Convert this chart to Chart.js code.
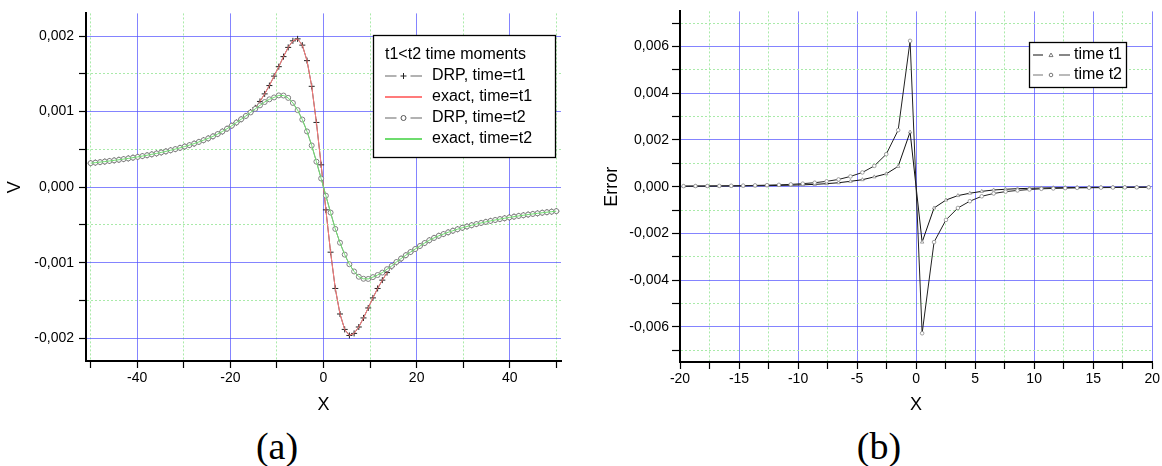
<!DOCTYPE html>
<html>
<head>
<meta charset="utf-8">
<script src="https://cdn.jsdelivr.net/npm/chart.js"></script>
<style>
  body { margin: 0; background: #fff; width: 1162px; height: 466px; overflow: hidden; position: relative; }
  .panel { position: absolute; top: 0; height: 420px; }
  .cap { position: absolute; top: 427px; font-family: "Liberation Serif", serif; font-size: 38px; line-height: 38px; transform: translateX(-50%); color: #000; }
</style>
</head>
<body>
<div class="panel" style="left:0;width:580px"><canvas id="chartA" width="580" height="420"></canvas></div>
<div class="panel" style="left:580px;width:582px"><canvas id="chartB" width="582" height="420"></canvas></div>
<div class="cap" style="left:277px">(a)</div>
<div class="cap" style="left:879px">(b)</div>
<script>
// ---- panel (a): V(x) at two time moments, values in units of 1e-3 ----
const xA = [-50.00, -48.99, -47.98, -46.97, -45.96, -44.95, -43.94, -42.93, -41.92, -40.91,
  -39.90, -38.89, -37.88, -36.87, -35.86, -34.85, -33.84, -32.83, -31.82, -30.81,
  -29.80, -28.79, -27.78, -26.77, -25.76, -24.75, -23.74, -22.73, -21.72, -20.71,
  -19.70, -18.69, -17.68, -16.67, -15.66, -14.65, -13.64, -12.63, -11.62, -10.61,
  -9.60, -8.59, -7.58, -6.57, -5.56, -4.55, -3.54, -2.53, -1.52, -0.51,
  0.51, 1.52, 2.53, 3.54, 4.55, 5.56, 6.57, 7.58, 8.59, 9.60,
  10.61, 11.62, 12.63, 13.64, 14.65, 15.66, 16.67, 17.68, 18.69, 19.70,
  20.71, 21.72, 22.73, 23.74, 24.75, 25.76, 26.77, 27.78, 28.79, 29.80,
  30.81, 31.82, 32.83, 33.84, 34.85, 35.86, 36.87, 37.88, 38.89, 39.90,
  40.91, 41.92, 42.93, 43.94, 44.95, 45.96, 46.97, 47.98, 48.99, 50.00];

const drpT1A = [0.318, 0.325, 0.332, 0.339, 0.347, 0.355, 0.363, 0.372, 0.381, 0.391,
  0.401, 0.412, 0.423, 0.435, 0.447, 0.460, 0.474, 0.489, 0.504, 0.521,
  0.538, 0.557, 0.577, 0.599, 0.622, 0.646, 0.673, 0.703, 0.737, 0.774,
  0.814, 0.856, 0.899, 0.943, 0.995, 1.050, 1.135, 1.235, 1.345, 1.470,
  1.595, 1.728, 1.850, 1.937, 1.963, 1.880, 1.675, 1.335, 0.857, 0.296,
  -0.300, -0.860, -1.340, -1.678, -1.882, -1.962, -1.935, -1.850, -1.730, -1.598,
  -1.465, -1.340, -1.230, -1.130, -1.050, -0.995, -0.947, -0.900, -0.858, -0.818,
  -0.778, -0.739, -0.702, -0.671, -0.643, -0.620, -0.597, -0.576, -0.556, -0.537,
  -0.520, -0.503, -0.488, -0.473, -0.459, -0.446, -0.434, -0.422, -0.411, -0.400,
  -0.390, -0.380, -0.371, -0.362, -0.354, -0.346, -0.338, -0.331, -0.324, -0.317];

const drpT2A = [0.318, 0.325, 0.332, 0.339, 0.347, 0.355, 0.363, 0.372, 0.381, 0.391,
  0.401, 0.412, 0.423, 0.435, 0.447, 0.460, 0.474, 0.489, 0.504, 0.521,
  0.538, 0.557, 0.577, 0.599, 0.622, 0.646, 0.673, 0.703, 0.737, 0.774,
  0.814, 0.856, 0.899, 0.943, 0.989, 1.037, 1.083, 1.127, 1.163, 1.188,
  1.215, 1.213, 1.182, 1.115, 1.020, 0.895, 0.738, 0.552, 0.338, 0.115,
  -0.112, -0.336, -0.552, -0.735, -0.892, -1.020, -1.115, -1.185, -1.212, -1.214,
  -1.190, -1.162, -1.130, -1.085, -1.042, -0.990, -0.944, -0.900, -0.858, -0.818,
  -0.778, -0.739, -0.702, -0.671, -0.643, -0.620, -0.597, -0.576, -0.556, -0.537,
  -0.520, -0.503, -0.488, -0.473, -0.459, -0.446, -0.434, -0.422, -0.411, -0.400,
  -0.390, -0.380, -0.371, -0.362, -0.354, -0.346, -0.338, -0.331, -0.324, -0.317];

// exact solution lies on top of the DRP points at this scale
const exactT1A = drpT1A;
const exactT2A = drpT2A;

const xMajorA = [-40, -20, 0, 20, 40];
const xMinorA = [-50, -30, -10, 10, 30, 50];
const yMajorA = [-0.002, -0.001, 0, 0.001, 0.002];
const yMinorA = [-0.0015, -0.0005, 0.0005, 0.0015];

// ---- panel (b): error at t1 and t2, units of 1e-3 ----
const xB = [-19.70, -18.69, -17.68, -16.67, -15.66, -14.65, -13.64, -12.63, -11.62, -10.61,
  -9.60, -8.59, -7.58, -6.57, -5.56, -4.55, -3.54, -2.53, -1.52, -0.51,
  0.51, 1.52, 2.53, 3.54, 4.55, 5.56, 6.57, 7.58, 8.59, 9.60,
  10.61, 11.62, 12.63, 13.64, 14.65, 15.66, 16.67, 17.68, 18.69, 19.70];

const errT1B = [0.020, 0.022, 0.025, 0.028, 0.030, 0.035, 0.040, 0.045, 0.055, 0.065,
  0.080, 0.100, 0.130, 0.170, 0.230, 0.300, 0.420, 0.550, 0.870, 2.340,
  -2.370, -0.910, -0.570, -0.380, -0.280, -0.200, -0.140, -0.110, -0.085, -0.070,
  -0.055, -0.045, -0.040, -0.035, -0.030, -0.028, -0.025, -0.022, -0.020, -0.018];

const errT2B = [0.025, 0.028, 0.030, 0.035, 0.040, 0.045, 0.055, 0.065, 0.080, 0.100,
  0.130, 0.170, 0.230, 0.310, 0.440, 0.610, 0.890, 1.390, 2.420, 6.240,
  -6.270, -2.370, -1.420, -0.910, -0.620, -0.410, -0.290, -0.210, -0.160, -0.120,
  -0.090, -0.075, -0.060, -0.050, -0.045, -0.040, -0.035, -0.030, -0.028, -0.025];

const xMajorB = [-20, -15, -10, -5, 0, 5, 10, 15, 20];
const xMinorB = [-17.5, -12.5, -7.5, -2.5, 2.5, 7.5, 12.5, 17.5];
const yMajorB = [-0.006, -0.004, -0.002, 0, 0.002, 0.004, 0.006];
const yMinorB = [-0.007, -0.005, -0.003, -0.001, 0.001, 0.003, 0.005, 0.007];

const FONT = "'Liberation Sans', Arial, sans-serif";
const RED = '#ff7b7b';
const GREEN = '#6edc6e';
const pts = (xs, ys) => xs.map((x, i) => ({x: x, y: ys[i] * 1e-3}));
const isIn = (v, arr) => arr.some(a => Math.abs(a - v) < 1e-9);
const comma = v => (Math.abs(v) < 1e-12 ? 0 : v).toFixed(3).replace('.', ',');

function axis(o) {
  return {
    type: 'linear',
    position: o.position,
    min: o.min,
    max: o.max,
    afterBuildTicks: s => {
      s.ticks = o.major.concat(o.minor).sort((a, b) => a - b).map(v => ({value: v}));
    },
    afterFit: s => {
      if (o.position === 'left') s.width = o.size; else s.height = o.size;
    },
    grid: {
      color: c => (c.tick && isIn(c.tick.value, o.minor)) ? '#a9eaa9' : 'rgba(80,80,255,0.7)',
      lineWidth: 1,
      tickColor: '#000',
      tickLength: o.tickLength,
      tickWidth: 1.2
    },
    border: {
      display: true, color: '#000', width: 2,
      dash: c => (c.tick && isIn(c.tick.value, o.minor)) ? [2, 2] : []
    },
    ticks: {
      autoSkip: false, maxRotation: 0, padding: o.pad, color: '#000',
      font: {family: FONT, size: 14},
      callback: v => isIn(v, o.major) ? o.fmt(v) : ''
    },
    title: {
      display: true, text: o.title, color: '#000',
      font: {family: FONT, size: 18},
      padding: o.titlePad
    }
  };
}

function drawMarker(ctx, style, x, y, r, color) {
  ctx.save();
  ctx.strokeStyle = color;
  ctx.fillStyle = '#fff';
  ctx.lineWidth = 1;
  ctx.beginPath();
  if (style === 'cross') {
    ctx.moveTo(x - r, y); ctx.lineTo(x + r, y);
    ctx.moveTo(x, y - r); ctx.lineTo(x, y + r);
  } else if (style === 'circle') {
    ctx.arc(x, y, r, 0, Math.PI * 2);
    ctx.fill();
  } else if (style === 'triangle') {
    ctx.moveTo(x, y - r); ctx.lineTo(x + r, y + r * 0.8); ctx.lineTo(x - r, y + r * 0.8); ctx.closePath();
    ctx.fill();
  }
  ctx.stroke();
  ctx.restore();
}

const boxLegend = {
  id: 'boxLegend',
  afterDraw(chart, args, o) {
    if (!o.items) return;
    const ctx = chart.ctx;
    ctx.save();
    ctx.fillStyle = '#fff';
    ctx.fillRect(o.x, o.y, o.w, o.h);
    ctx.strokeStyle = '#000';
    ctx.lineWidth = 1.3;
    ctx.strokeRect(o.x + 0.5, o.y + 0.5, o.w, o.h);
    ctx.font = '16px ' + FONT;
    ctx.textBaseline = 'middle';
    ctx.fillStyle = '#000';
    if (o.title) ctx.fillText(o.title, o.titleX, o.titleY);
    o.items.forEach((it, i) => {
      const y = Math.round(o.rowY + i * o.rowH);
      ctx.strokeStyle = it.line;
      ctx.lineWidth = it.marker ? 1.2 : 2;
      ctx.beginPath();
      if (it.marker) {
        ctx.moveTo(o.lx1, y); ctx.lineTo(o.mx - o.gap, y);
        ctx.moveTo(o.mx + o.gap, y); ctx.lineTo(o.lx2, y);
      } else {
        ctx.moveTo(o.lx1, y); ctx.lineTo(o.lx2, y);
      }
      ctx.stroke();
      if (it.marker) drawMarker(ctx, it.marker, o.mx, y, it.r, it.mColor);
      ctx.fillStyle = '#000';
      ctx.fillText(chart.data.datasets[it.ds].label, o.tx, y);
    });
    ctx.restore();
  }
};

new Chart(document.getElementById('chartA'), {
  type: 'line',
  data: {
    datasets: [
      {label: 'DRP, time=t1', data: pts(xA, drpT1A), borderColor: '#444', borderWidth: 1,
        pointStyle: 'cross', pointRadius: 3, pointBorderColor: '#222', pointBorderWidth: 1, order: 4},
      {label: 'exact, time=t1', data: pts(xA, exactT1A), borderColor: RED, borderWidth: 1,
        pointRadius: 0, order: 3},
      {label: 'DRP, time=t2', data: pts(xA, drpT2A), borderColor: '#888', borderWidth: 1,
        pointStyle: 'circle', pointRadius: 2.5, pointBorderColor: '#808080', pointBackgroundColor: '#fff',
        pointBorderWidth: 1, order: 2},
      {label: 'exact, time=t2', data: pts(xA, exactT2A), borderColor: GREEN, borderWidth: 1,
        pointRadius: 0, order: 1}
    ]
  },
  options: {
    responsive: false, animation: false, events: [], devicePixelRatio: 1,
    layout: {padding: {top: 9, right: 19, left: 0, bottom: 0}},
    scales: {
      x: axis({position: 'bottom', min: -51, max: 51, major: xMajorA, minor: xMinorA, size: 59,
        tickLength: 7, pad: 2, fmt: v => String(v), title: 'X', titlePad: {top: 4, bottom: 4}}),
      y: axis({position: 'left', min: -0.0023, max: 0.0023, major: yMajorA, minor: yMinorA, size: 86,
        tickLength: 7, pad: 5, fmt: comma, title: 'V', titlePad: {top: 4, bottom: 4}})
    },
    plugins: {
      legend: {display: false}, tooltip: {enabled: false},
      boxLegend: {
        x: 373, y: 35, w: 182, h: 122, title: 't1<t2 time moments', titleX: 385, titleY: 55,
        rowY: 76, rowH: 21, lx1: 385, lx2: 422, mx: 403.5, gap: 7, tx: 432,
        items: [
          {ds: 0, line: '#666', marker: 'cross', r: 3, mColor: '#222'},
          {ds: 1, line: RED},
          {ds: 2, line: '#666', marker: 'circle', r: 2.5, mColor: '#555'},
          {ds: 3, line: GREEN}
        ]
      }
    }
  },
  plugins: [boxLegend]
});

new Chart(document.getElementById('chartB'), {
  type: 'line',
  data: {
    datasets: [
      {label: 'time t1', data: pts(xB, errT1B), borderColor: '#111', borderWidth: 1,
        pointStyle: 'triangle', pointRadius: 2, pointBorderColor: '#8a8a8a', pointBackgroundColor: '#fff',
        pointBorderWidth: 0.8, order: 2},
      {label: 'time t2', data: pts(xB, errT2B), borderColor: '#222', borderWidth: 1,
        pointStyle: 'circle', pointRadius: 1.8, pointBorderColor: '#8a8a8a', pointBackgroundColor: '#fff',
        pointBorderWidth: 0.8, order: 1}
    ]
  },
  options: {
    responsive: false, animation: false, events: [], devicePixelRatio: 1,
    layout: {padding: {top: 11, right: 8, left: 0, bottom: 0}},
    scales: {
      x: axis({position: 'bottom', min: -20, max: 20, major: xMajorB, minor: xMinorB, size: 58,
        tickLength: 7, pad: 2, fmt: v => String(v), title: 'X', titlePad: {top: 4, bottom: 4}}),
      y: axis({position: 'left', min: -0.0075, max: 0.0075, major: yMajorB, minor: yMinorB, size: 100,
        tickLength: 8, pad: 3, fmt: comma, title: 'Error', titlePad: {top: 21, bottom: 4}})
    },
    plugins: {
      legend: {display: false}, tooltip: {enabled: false},
      boxLegend: {
        x: 449, y: 42, w: 97, h: 45,
        rowY: 55, rowH: 19.5, lx1: 453, lx2: 490, mx: 471, gap: 8, tx: 494,
        items: [
          {ds: 0, line: '#111', marker: 'triangle', r: 2, mColor: '#777'},
          {ds: 1, line: '#777', marker: 'circle', r: 1.8, mColor: '#777'}
        ]
      }
    }
  },
  plugins: [boxLegend]
});
</script>
</body>
</html>
